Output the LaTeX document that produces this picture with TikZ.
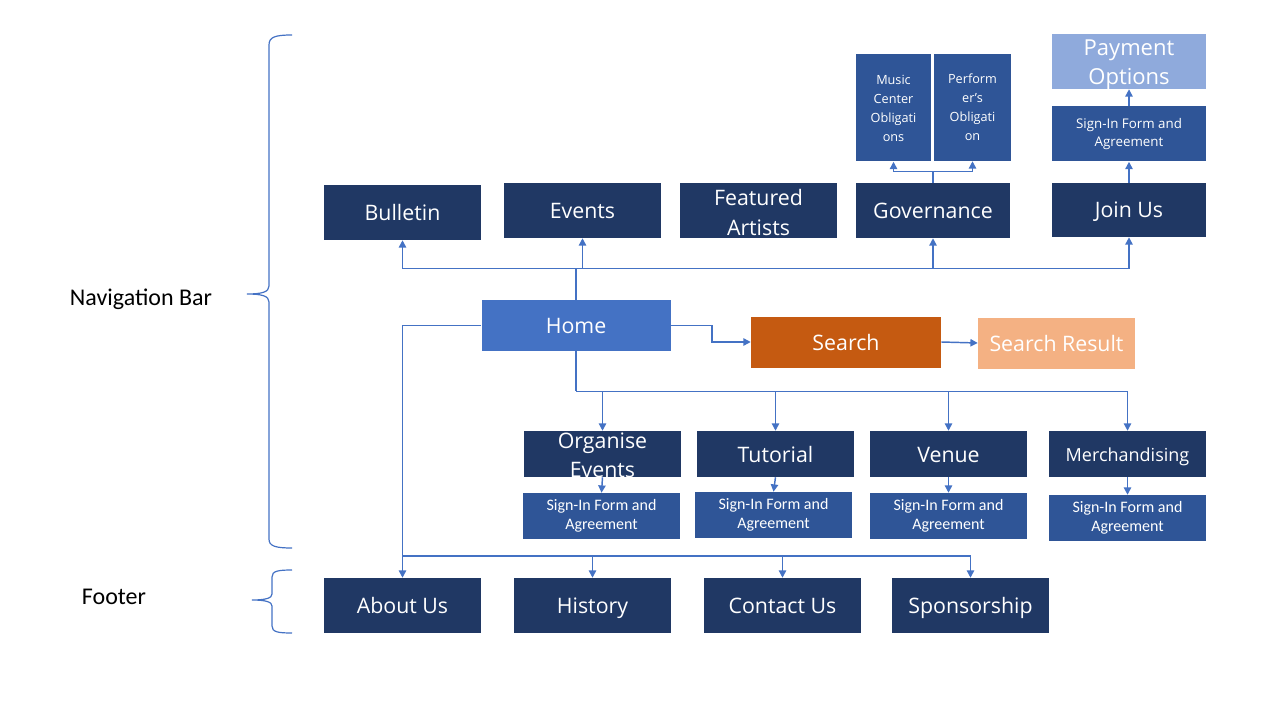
\documentclass[tikz,border=0pt]{standalone}
\usepackage{fontspec}
\setmainfont{Open Sans}
\newfontfamily\calfont{Carlito}
\usetikzlibrary{arrows.meta}
\definecolor{navy}{HTML}{203864}
\definecolor{midb}{HTML}{2F5597}
\definecolor{homec}{HTML}{4472C4}
\definecolor{searchc}{HTML}{C55A11}
\definecolor{resc}{HTML}{F4B183}
\definecolor{payc}{HTML}{8FAADC}
\definecolor{linec}{HTML}{4472C4}
\begin{document}
\begin{tikzpicture}[x=0.75pt,y=-0.75pt,
  box/.style={inner sep=0pt, text=white, align=center, font=\fontsize{16}{21.75}\selectfont},
  one/.style={text height=14pt, text depth=2pt},
  navybox/.style={box, fill=navy, minimum width=117.75pt, minimum height=41.25pt},
  subbox/.style={box, fill=navy, minimum width=117.75pt, minimum height=34.5pt},
  signbox/.style={box, fill=midb, minimum width=117.75pt, minimum height=34.5pt, font=\calfont\fontsize{12}{14.25}\selectfont},
  obbox/.style={box, fill=midb, minimum height=80.25pt, font=\fontsize{9.5}{14.25}\selectfont},
  lbl/.style={inner sep=0pt, text=white, align=center, font=\fontsize{16}{21.75}\selectfont},
  side/.style={inner sep=0pt, font=\calfont\fontsize{18}{21}\selectfont},
  conn/.style={draw=linec, line width=1.1pt},
  arr/.style={conn, -{Triangle[length=5.5pt,width=5.5pt]}},
  brace/.style={draw=linec, line width=0.9pt}
]
\useasboundingbox (0,0) rectangle (1280,720);

% top row
\node[navybox, one] (bulletin) at (402.5,212.5) {Bulletin};
\node[navybox, one] (events) at (582.5,210.5) {Events};
\node[navybox, label={[lbl,yshift=-1.5pt]center:Featured\\Artists}] (featured) at (758.5,210.5) {};
\node[navybox, one, minimum width=115.5pt] (gov) at (933,210.5) {Governance};
\node[navybox, one, minimum width=115.5pt, minimum height=40.5pt] (joinus) at (1129,210) {Join Us};

% governance children
\node[obbox, minimum width=56.25pt] (music) at (893.5,108) {Music\\Center\\Obligati\\ons};
\node[obbox, minimum width=57.75pt] (perf) at (972.5,107.5) {Perform\\er’s\\Obligati\\on};

% join us children
\node[box, fill=midb, minimum width=115.5pt, minimum height=41.25pt, font=\fontsize{10}{14}\selectfont] (signtop) at (1129,134) {Sign-In Form and\\Agreement};
\node[box, fill=payc, minimum width=115.5pt, minimum height=41.25pt, label={[lbl,yshift=-2.2pt,font=\fontsize{16.5}{21.75}\selectfont]center:Payment\\Options}] (pay) at (1129,61.5) {};

% middle
\node[box, one, fill=homec, minimum width=141.75pt, minimum height=38.25pt] (home) at (576,325.5) {Home};
\node[box, one, fill=searchc, minimum width=142.5pt, minimum height=38.25pt] (search) at (846,342) {Search};
\node[box, one, fill=resc, minimum width=117.75pt, minimum height=38.25pt] (sresult) at (1056.5,343) {Search Result};

% sub row
\node[subbox, label={[lbl,yshift=-0.8pt]center:Organise\\Events}] (org) at (602.5,454) {};
\node[subbox, one] (tut) at (775.5,454) {Tutorial};
\node[subbox, one] (venue) at (948.5,454) {Venue};
\node[subbox, font=\fontsize{13.5}{16}\selectfont, text height=13pt, text depth=1.5pt] (merch) at (1127.5,454) {Merchandising};

\node[signbox] (s1) at (601.5,516) {Sign-In Form and\\Agreement};
\node[signbox] (s2) at (773.5,515) {Sign-In Form and\\Agreement};
\node[signbox] (s3) at (948.5,516) {Sign-In Form and\\Agreement};
\node[signbox] (s4) at (1127.5,518) {Sign-In Form and\\Agreement};

% footer row
\node[navybox, one] (about) at (402.5,605.5) {About Us};
\node[navybox, one] (history) at (592.5,605.5) {History};
\node[navybox, one] (contact) at (782.5,605.5) {Contact Us};
\node[navybox, one] (sponsor) at (970.5,605.5) {Sponsorship};

% side labels
\node[side] (nav) at (141,299) {Navigation Bar};
\node[side] (foot) at (114,597) {Footer};

% braces
\draw[brace] (292,35) .. controls (275,35) and (269,37) .. (269,45) -- (269,286)
  .. controls (269,292) and (262,294) .. (247,294)
  .. controls (262,294) and (269,296) .. (269,302) -- (269,539)
  .. controls (269,546) and (275,548) .. (292,548);
\draw[brace] (292,570) .. controls (278,570) and (272,571) .. (272,577) -- (272,594)
  .. controls (272,598) and (266,600) .. (252,600)
  .. controls (266,600) and (272,602) .. (272,606) -- (272,626)
  .. controls (272,632) and (278,633) .. (292,633);

% top bus
\path (home.north) ++(0,-31) coordinate (bt);
\draw[conn] (home.north) -- (bt);
\draw[arr] (bt) -| (bulletin.south);
\draw[arr] (bt) -| (joinus.south);
\draw[arr] (events.south |- bt) -- (events.south);
\draw[arr] (gov.south |- bt) -- (gov.south);

% governance
\path (gov.north) ++(0,-11) coordinate (gt);
\draw[conn] (gov.north) -- (gt);
\draw[arr] (gt) -| (music.south);
\draw[arr] (gt) -| (perf.south);

% join us chain
\draw[arr] (joinus.north) -- (signtop.south);
\draw[arr] (signtop.north) -- (pay.south);

% search
\draw[arr] (home.east) -- ++(41,0) |- (search.west);
\draw[arr] (search.east) -- (sresult.west);

% lower bus
\path (home.south) ++(0,40) coordinate (bb);
\draw[conn] (home.south) -- (bb);
\draw[arr] (bb) -| (merch.north);
\draw[arr] (org.north |- bb) -- (org.north);
\draw[arr] (tut.north |- bb) -- (tut.north);
\draw[arr] (venue.north |- bb) -- (venue.north);

\draw[arr] (org.south) -- (s1.north);
\draw[arr] (tut.south) -- (s2.north);
\draw[arr] (venue.south) -- (s3.north);
\draw[arr] (merch.south) -- (s4.north);

% footer bus
\draw[arr] (home.west) -| (about.north);
\coordinate (fb) at (402.5,556);
\draw[arr] (fb) -| (sponsor.north);
\draw[arr] (history.north |- fb) -- (history.north);
\draw[arr] (contact.north |- fb) -- (contact.north);
\end{tikzpicture}
\end{document}
